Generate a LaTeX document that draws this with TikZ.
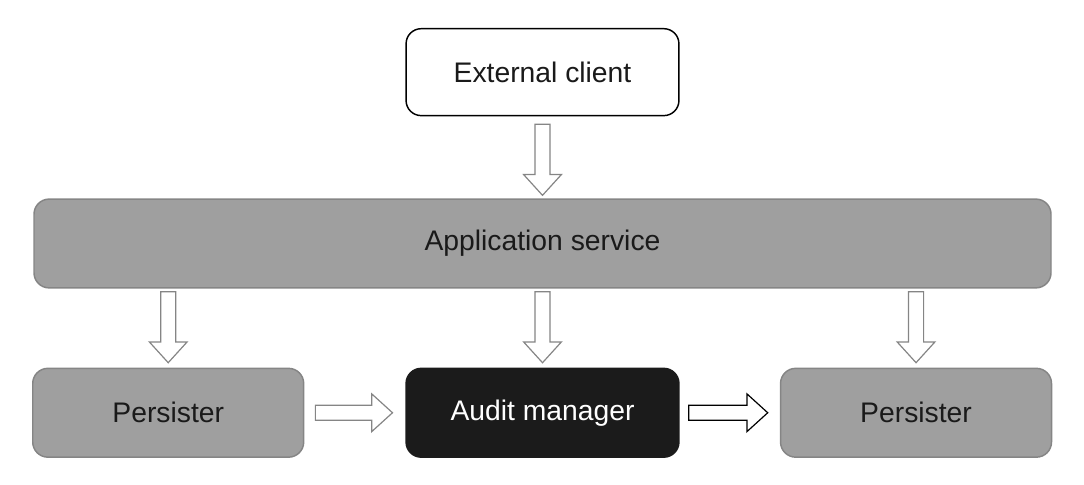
\documentclass[tikz,border=0pt]{standalone}
\usepackage{fontspec}
\setmainfont{Liberation Sans}
\usetikzlibrary{positioning, calc}

\definecolor{boxgray}{HTML}{9F9F9F}
\definecolor{edgegray}{HTML}{858585}
\definecolor{auditblack}{HTML}{1B1B1B}
\definecolor{textdark}{HTML}{1A1A1A}

\begin{document}
\begin{tikzpicture}[
    font=\fontsize{21.3}{25}\selectfont,
    base/.style={rectangle, rounded corners=0.4cm, line width=1.1pt, align=center, text=textdark},
    clientbox/.style={base, draw=black, fill=white, minimum width=7.22cm, minimum height=2.30cm},
    appbox/.style={base, draw=edgegray, fill=boxgray, minimum width=26.91cm, minimum height=2.35cm},
    persbox/.style={base, draw=edgegray, fill=boxgray, minimum width=7.17cm, minimum height=2.35cm},
    auditbox/.style={base, draw=auditblack, fill=auditblack, text=white, minimum width=7.22cm, minimum height=2.35cm},
    blk/.style 2 args={draw=edgegray, fill=white, line width=0.9pt, line join=miter,
        to path={let \p1=(\tikztostart), \p2=(\tikztotarget),
            \n1={atan2(\y2-\y1,\x2-\x1)}, \n2={veclen(\x2-\x1,\y2-\y1)} in
            ([shift={(\p1)},rotate=\n1] #1,-0.2cm)
            -- ([shift={(\p1)},rotate=\n1] \n2-#2-0.55cm,-0.2cm)
            -- ([shift={(\p1)},rotate=\n1] \n2-#2-0.55cm,-0.5cm)
            -- ([shift={(\p1)},rotate=\n1] \n2-#2,0cm)
            -- ([shift={(\p1)},rotate=\n1] \n2-#2-0.55cm,0.5cm)
            -- ([shift={(\p1)},rotate=\n1] \n2-#2-0.55cm,0.2cm)
            -- ([shift={(\p1)},rotate=\n1] #1,0.2cm) -- cycle}}
]
    \useasboundingbox (-14.355,-6.364) rectangle (14.328,6.443);

    \node[appbox] (app) {Application service};
    \node[clientbox, above=2.17cm of app] (client) {External client};
    \node[auditbox, below=2.09cm of app] (audit) {Audit manager};
    \node[persbox, left=2.67cm of audit] (persleft) {Persister};
    \node[persbox, right=2.65cm of audit] (persright) {Persister};

    \draw[blk={0.21cm}{0.08cm}] (client.south) to (app.north);
    \draw[blk={0.08cm}{0.13cm}] (app.south -| persleft) to (persleft.north);
    \draw[blk={0.08cm}{0.13cm}] (app.south) to (audit.north);
    \draw[blk={0.08cm}{0.13cm}] (app.south -| persright) to (persright.north);
    \draw[blk={0.29cm}{0.34cm}] (persleft.east) to (audit.west);
    \draw[blk={0.24cm}{0.32cm}, draw=black] (audit.east) to (persright.west);
\end{tikzpicture}
\end{document}
